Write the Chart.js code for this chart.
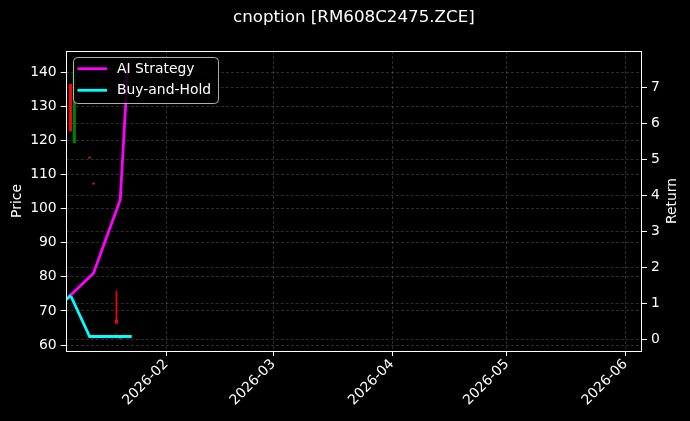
<!DOCTYPE html>
<html>
<head>
<meta charset="utf-8">
<script src="https://cdn.jsdelivr.net/npm/chart.js@4.4.1/dist/chart.umd.min.js"></script>
<style>
  html, body { margin: 0; padding: 0; background: #000; }
  #wrap { width: 690px; height: 421px; }
</style>
</head>
<body>
<div id="wrap"><canvas id="chart" width="690" height="421"></canvas></div>
<script>
// candles (price axis)
const candleDates = ['2026-01-07', '2026-01-08', '2026-01-12', '2026-01-13', '2026-01-19', '2026-01-20'];
const candleOpen  = [136.5, 119.3, 114.8, 107.2, 67.3, 61.8];
const candleClose = [122.8, 140.5, 114.8, 107.2, 66.4, 61.8];
const candleHigh  = [136.5, 142.5, 114.8, 107.2, 75.8, 61.8];
const candleLow   = [122.8, 119.3, 114.8, 107.2, 66.4, 61.8];

// returns (right axis)
const aiDates  = ['2026-01-07', '2026-01-13', '2026-01-20', '2026-01-22'];
const aiReturn = [1.22, 1.83, 3.88, 7.63];
const bhDates  = ['2026-01-06', '2026-01-07', '2026-01-12', '2026-01-13', '2026-01-14', '2026-01-15',
                  '2026-01-16', '2026-01-19', '2026-01-20', '2026-01-21', '2026-01-22', '2026-01-23'];
const bhReturn = [1.1, 1.22, 0.07, 0.07, 0.07, 0.07, 0.07, 0.07, 0.07, 0.07, 0.07, 0.07];

// ticks
const xTickDates  = ['2026-02-01', '2026-03-01', '2026-04-01', '2026-05-01', '2026-06-01'];
const priceTicks  = [60, 70, 80, 90, 100, 110, 120, 130, 140];
const returnTicks = [0, 1, 2, 3, 4, 5, 6, 7];

const title = 'cnoption [RM608C2475.ZCE]';

const DAY = 86400000;
const BASE = Date.UTC(2026, 0, 1);
const dayNum = s => {
  const p = s.split('-').map(Number);
  return (Date.UTC(p[0], p[1] - 1, p[2]) - BASE) / DAY;
};
const dayLabel = d => new Date(BASE + Math.round(d) * DAY).toISOString().slice(0, 7);

const FONT = "'DejaVu Sans', 'Liberation Sans', sans-serif";
const gridColor = 'rgba(255, 255, 255, 0.22)';

// up = green, down = red, doji drawn as a faint mark
const candleColor = candleOpen.map((o, i) => {
  if (candleClose[i] > o) return 'green';
  if (candleClose[i] < o) return 'red';
  return 'rgba(255, 60, 60, 0.45)';
});

const wicks = candleDates.map((d, i) => ({ x: dayNum(d), y: [candleLow[i], candleHigh[i]] }));
const bodies = candleDates.map((d, i) => ({ x: dayNum(d), y: [candleOpen[i], candleClose[i]] }));
const aiData = aiDates.map((d, i) => ({ x: dayNum(d), y: aiReturn[i] }));
const bhData = bhDates.map((d, i) => ({ x: dayNum(d), y: bhReturn[i] }));

const fixTicks = vals => scale => { scale.ticks = vals.map(v => ({ value: v })); };

const overlay = {
  id: 'overlay',
  afterDraw(chart) {
    const ctx = chart.ctx;
    const a = chart.chartArea;
    ctx.save();
    // frame
    ctx.strokeStyle = '#fff';
    ctx.lineWidth = 1;
    ctx.setLineDash([]);
    ctx.strokeRect(Math.round(a.left) + 0.5, Math.round(a.top) + 0.5,
                   Math.round(a.right - a.left) - 1, Math.round(a.bottom - a.top));

    // title
    ctx.fillStyle = '#fff';
    ctx.font = '16.7px ' + FONT;
    ctx.textAlign = 'center';
    ctx.textBaseline = 'middle';
    ctx.fillText(title, (a.left + a.right) / 2, 18);

    // axis titles
    ctx.font = '13.9px ' + FONT;
    const midY = (a.top + a.bottom) / 2;
    ctx.save();
    ctx.translate(17, midY);
    ctx.rotate(-Math.PI / 2);
    ctx.fillText('Price', 0, 0);
    ctx.restore();
    ctx.save();
    ctx.translate(672, midY);
    ctx.rotate(-Math.PI / 2);
    ctx.fillText('Return', 0, 0);
    ctx.restore();

    // legend
    const lx = 73.5, ly = 57.5, lw = 145, lh = 46;
    ctx.beginPath();
    ctx.roundRect(lx, ly, lw, lh, 4);
    ctx.fillStyle = 'rgba(0, 0, 0, 0.85)';
    ctx.fill();
    ctx.strokeStyle = 'rgba(204, 204, 204, 0.85)';
    ctx.lineWidth = 1;
    ctx.stroke();
    const items = chart.data.datasets.filter(ds => ds.type === 'line');
    items.forEach((ds, i) => {
      const y = 68.7 + i * 21.6;
      ctx.beginPath();
      ctx.moveTo(77.5, y);
      ctx.lineTo(107, y);
      ctx.strokeStyle = ds.borderColor;
      ctx.lineWidth = 2.8;
      ctx.stroke();
      ctx.fillStyle = '#fff';
      ctx.textAlign = 'left';
      ctx.textBaseline = 'middle';
      ctx.fillText(ds.label, 117, y + 0.5);
    });
    ctx.restore();
  }
};

new Chart(document.getElementById('chart'), {
  type: 'bar',
  data: {
    datasets: [
      {
        type: 'line',
        label: 'AI Strategy',
        data: aiData,
        yAxisID: 'y1',
        borderColor: '#ff00ff',
        borderWidth: 2.8,
        pointRadius: 0,
        tension: 0,
        order: 0
      },
      {
        type: 'line',
        label: 'Buy-and-Hold',
        data: bhData,
        yAxisID: 'y1',
        borderColor: '#00ffff',
        borderWidth: 2.8,
        pointRadius: 0,
        tension: 0,
        order: 0
      },
      {
        label: 'wick',
        data: wicks,
        yAxisID: 'y',
        backgroundColor: candleColor,
        barThickness: 1,
        grouped: false,
        minBarLength: 1,
        order: 2
      },
      {
        label: 'body',
        data: bodies,
        yAxisID: 'y',
        backgroundColor: candleColor,
        barThickness: 2.4,
        grouped: false,
        minBarLength: 1,
        order: 1
      }
    ]
  },
  options: {
    responsive: false,
    animation: false,
    layout: { padding: { top: 51, left: 0, right: 0, bottom: 0 } },
    plugins: {
      legend: { display: false },
      title: { display: false },
      tooltip: { enabled: false }
    },
    scales: {
      x: {
        type: 'linear',
        offset: false,
        min: 4.75,
        max: 155.3,
        afterBuildTicks: fixTicks(xTickDates.map(dayNum)),
        afterFit: s => { s.height = 70; },
        ticks: {
          color: '#fff',
          font: { family: FONT, size: 13.9 },
          minRotation: 45,
          maxRotation: 45,
          padding: 0,
          callback: v => dayLabel(v)
        },
        grid: { offset: false, color: gridColor, lineWidth: 0.8, tickColor: '#fff', tickLength: 5, tickWidth: 1 },
        border: { display: false, dash: [3, 2] }
      },
      y: {
        position: 'left',
        min: 58.24,
        max: 146.25,
        afterBuildTicks: fixTicks(priceTicks),
        afterFit: s => { s.width = 65.7; },
        ticks: { color: '#fff', font: { family: FONT, size: 13.9 }, padding: 4 },
        grid: { color: gridColor, lineWidth: 0.8, tickColor: '#fff', tickLength: 5, tickWidth: 1 },
        border: { display: false, dash: [3, 2] }
      },
      y1: {
        position: 'right',
        min: -0.334,
        max: 8.02,
        afterBuildTicks: fixTicks(returnTicks),
        afterFit: s => { s.width = 48; },
        ticks: { color: '#fff', font: { family: FONT, size: 13.9 }, padding: 4 },
        grid: { color: gridColor, lineWidth: 0.8, tickColor: '#fff', tickLength: 5, tickWidth: 1 },
        border: { display: false, dash: [3, 2] }
      }
    }
  },
  plugins: [overlay]
});
</script>
</body>
</html>
